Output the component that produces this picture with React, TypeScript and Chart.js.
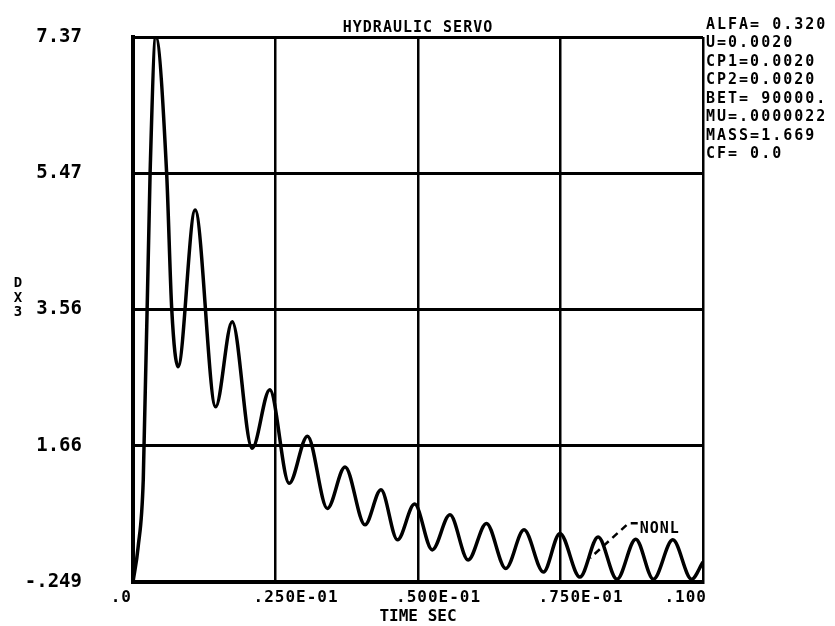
import { useEffect, useRef } from "react";
import { Chart, registerables } from "chart.js";

Chart.register(...registerables);

// ---- data ----
const TIME_SEC = [
  0.0, 0.0009, 0.0018, 0.003, 0.004, 0.0059, 0.0068, 0.0079, 0.0109,
  0.0145, 0.0174, 0.0209, 0.024, 0.0274, 0.0306, 0.0341, 0.0372, 0.0407, 0.0435,
  0.0464, 0.0494, 0.0525, 0.0556, 0.0588, 0.062, 0.0654, 0.0686, 0.072, 0.0749,
  0.0784, 0.0816, 0.0849, 0.0882, 0.0913, 0.0947, 0.098, 0.1,
];
const DX3 = [
  -0.249, 0.24, 1.18, 5.47, 7.37, 5.47, 3.56, 2.76, 4.95,
  2.2, 3.39, 1.62, 2.44, 1.13, 1.79, 0.78, 1.36, 0.55, 1.04,
  0.34, 0.84, 0.2, 0.69, 0.06, 0.57, -0.06, 0.48, -0.11, 0.43,
  -0.18, 0.38, -0.21, 0.35, -0.21, 0.34, -0.21, 0.03,
];

const X_TICKS = [0, 0.025, 0.05, 0.075, 0.1];
const X_TICK_LABELS = [".0", ".250E-01", ".500E-01", ".750E-01", ".100"];
const Y_TICKS = [-0.249, 1.656, 3.561, 5.466, 7.37];
const Y_TICK_LABELS = ["-.249", "1.66", "3.56", "5.47", "7.37"];

const TITLE = "HYDRAULIC SERVO";
const X_TITLE = "TIME SEC";
const Y_TITLE = ["D", "X", "3"];
const PARAMS = [
  "ALFA= 0.320",
  "U=0.0020",
  "CP1=0.0020",
  "CP2=0.0020",
  "BET= 90000.",
  "MU=.0000022",
  "MASS=1.669",
  "CF= 0.0",
];
const CURVE_LABEL = "NONL";
const CURVE_LABEL_AT = { x: 0.0889, y: 0.49 };
const CURVE_LABEL_TARGET = { x: 0.0802, y: 0.087 };

const FAMILY = '"DejaVu Sans Mono", "Liberation Mono", monospace';
const font = (size: number) => `bold ${size}px ${FAMILY}`;

const textPlugin = {
  id: "plotterText",
  afterDraw(chart: any) {
    const { ctx, chartArea: ca, scales } = chart;
    const xs = scales.x;
    const ys = scales.y;
    ctx.save();
    ctx.fillStyle = "#000";
    ctx.strokeStyle = "#000";

    // title
    ctx.font = font(15);
    (ctx as any).letterSpacing = "1px";
    ctx.textAlign = "center";
    ctx.textBaseline = "alphabetic";
    ctx.fillText(TITLE, (ca.left + ca.right) / 2, ca.top - 5);

    // parameter list
    ctx.font = font(15);
    (ctx as any).letterSpacing = "2px";
    ctx.textAlign = "left";
    ctx.textBaseline = "middle";
    PARAMS.forEach((p, i) => {
      ctx.fillText(p, ca.right + 3, ca.top - 12 + i * 18.5);
    });

    // stacked y title
    ctx.font = font(14);
    (ctx as any).letterSpacing = "0px";
    ctx.textAlign = "center";
    const yMid = ys.getPixelForValue(Y_TICKS[2]);
    Y_TITLE.forEach((c, i) => {
      ctx.fillText(c, 18, yMid - 26 + i * 14.5);
    });

    // x tick labels
    ctx.font = font(16);
    (ctx as any).letterSpacing = "1px";
    ctx.textBaseline = "middle";
    const ly = ca.bottom + 16;
    X_TICKS.forEach((v, i) => {
      const px = xs.getPixelForValue(v);
      if (i === 0) {
        ctx.textAlign = "right";
        ctx.fillText(X_TICK_LABELS[i], px - 1, ly);
      } else if (i === X_TICKS.length - 1) {
        ctx.textAlign = "right";
        ctx.fillText(X_TICK_LABELS[i], px + 4, ly);
      } else {
        ctx.textAlign = "left";
        ctx.fillText(X_TICK_LABELS[i], px - 22, ly);
      }
    });

    // curve label with dashed leader
    const lx = xs.getPixelForValue(CURVE_LABEL_AT.x);
    const lyy = ys.getPixelForValue(CURVE_LABEL_AT.y);
    const tx = xs.getPixelForValue(CURVE_LABEL_TARGET.x);
    const ty = ys.getPixelForValue(CURVE_LABEL_TARGET.y);
    ctx.font = font(15);
    (ctx as any).letterSpacing = "1px";
    ctx.textAlign = "left";
    ctx.textBaseline = "middle";
    ctx.fillText(CURVE_LABEL, lx, lyy);
    ctx.lineWidth = 2.5;
    ctx.setLineDash([7, 5]);
    ctx.beginPath();
    ctx.moveTo(lx - 2, lyy - 6);
    ctx.lineTo(lx - 11, lyy - 6);
    ctx.lineTo(tx, ty);
    ctx.stroke();
    ctx.restore();
  },
};

export default function App() {
  const ref = useRef<HTMLCanvasElement | null>(null);

  useEffect(() => {
    document.body.style.margin = "0";
    const canvas = ref.current;
    if (!canvas) return;
    const points = TIME_SEC.map((t, i) => ({ x: t, y: DX3[i] }));
    const chart = new Chart(canvas, {
      type: "line",
      data: {
        datasets: [
          {
            label: "NONL",
            data: points,
            borderColor: "#000",
            borderWidth: 3.5,
            pointRadius: 0,
            fill: false,
            cubicInterpolationMode: "monotone",
          },
        ],
      },
      options: {
        responsive: false,
        animation: false,
        layout: { padding: { left: 0, right: 132, top: 37, bottom: 0 } },
        plugins: {
          legend: { display: false },
          tooltip: { enabled: false },
          title: { display: false },
        },
        scales: {
          x: {
            type: "linear",
            min: 0,
            max: 0.1,
            afterBuildTicks: (s: any) => {
              s.ticks = X_TICKS.map((v) => ({ value: v }));
            },
            afterFit: (s: any) => {
              s.height = 44;
              s.paddingLeft = 0;
              s.paddingRight = 0;
            },
            ticks: { display: false },
            grid: { color: "#000", lineWidth: 2.5, drawTicks: false, tickLength: 0 },
            border: { color: "#000", width: 4 },
            title: {
              display: true,
              text: X_TITLE,
              color: "#000",
              font: { family: FAMILY, size: 16, weight: "bold" },
              padding: 0,
            },
          },
          y: {
            type: "linear",
            min: Y_TICKS[0],
            max: Y_TICKS[Y_TICKS.length - 1],
            afterBuildTicks: (s: any) => {
              s.ticks = Y_TICKS.map((v) => ({ value: v }));
            },
            afterFit: (s: any) => {
              s.width = 133;
              s.paddingTop = 0;
              s.paddingBottom = 0;
            },
            ticks: {
              color: "#000",
              padding: 51,
              font: { family: FAMILY, size: 19, weight: "bold" },
              callback: (v: any) => {
                const i = Y_TICKS.findIndex((t) => Math.abs(t - Number(v)) < 1e-6);
                return i >= 0 ? Y_TICK_LABELS[i] : "";
              },
            },
            grid: { color: "#000", lineWidth: 3, drawTicks: false, tickLength: 0 },
            border: { color: "#000", width: 4 },
          },
        },
      },
      plugins: [textPlugin],
    });
    return () => chart.destroy();
  }, []);

  return <canvas ref={ref} width={835} height={626} style={{ display: "block" }} />;
}
